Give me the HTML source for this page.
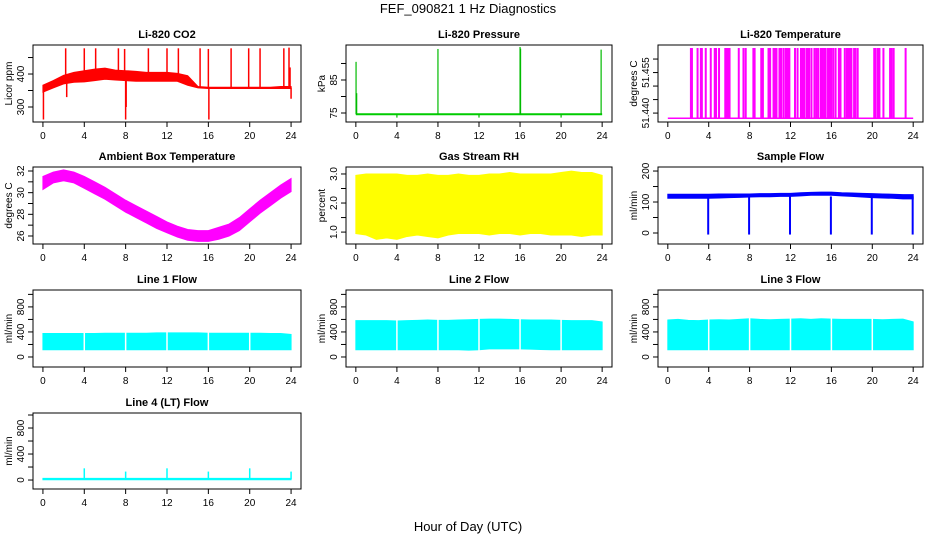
<!DOCTYPE html>
<html><head><meta charset="utf-8">
<style>
html,body{margin:0;padding:0;background:#fff;}
svg{display:block;font-family:"Liberation Sans",sans-serif;}
</style></head>
<body>
<svg id="fig" width="936" height="540" viewBox="0 0 936 540" xmlns="http://www.w3.org/2000/svg">
<text x="468" y="13" text-anchor="middle" font-size="13">FEF_090821  1 Hz Diagnostics</text>
<text x="468" y="531" text-anchor="middle" font-size="13">Hour of Day (UTC)</text>
</svg>
<script>
// ---- data ----
const hourTicks = [0,4,8,12,16,20,24];
const hours = [0,1,2,3,4,5,6,7,8,9,10,11,12,13,14,15,16,17,18,19,20,21,22,23,24];

const co2Low  = [345,358,370,375,376,380,384,382,380,378,378,378,378,378,366,358,356,356,356,356,356,356,356,356,356];
const co2High = [366,380,396,405,410,415,418,412,410,408,405,405,405,402,395,362,360,360,360,360,360,360,360,362,362];
const co2SpikeT = [0.05,2.2,2.3,4.0,5.1,7.3,7.9,8.0,8.05,10.2,12.0,13.1,15.2,16.0,16.05,18.2,19.9,21.0,23.3,23.8,23.9,24.0];
const co2SpikeV = [262,478,330,478,478,478,476,262,300,478,478,478,478,476,262,478,478,478,478,480,420,325];

const presT = [0,24];
const presV = [74.6,74.6];
const presSpikeT = [0.02,0.08,4.0,8.0,12.0,16.0,16.05,20.0,23.9];
const presSpikeV = [90.5,81,73.6,94.4,73.6,95,94.5,73.6,94.2];

const tempBase = 51.4381;
const tempSpikeT = [2.26,2.36,2.91,3.23,3.33,3.71,4.20,4.59,4.72,5.01,5.62,5.75,5.91,6.04,6.94,7.40,7.62,8.37,8.49,9.14,9.30,9.85,10.01,10.34,10.53,10.63,10.92,11.01,11.11,11.34,11.56,11.72,11.89,12.44,12.69,13.02,13.18,13.37,13.60,13.70,13.82,14.05,14.34,14.53,14.70,14.95,15.12,15.28,15.44,15.67,15.83,15.99,16.18,16.41,16.73,16.89,17.31,17.51,17.64,17.80,17.96,18.22,18.35,18.57,20.19,20.32,20.54,20.70,21.09,21.74,21.90,22.09,23.26];
const tempSpikeV = 51.4641;

const ambLow  = [30.3,30.9,31.1,30.9,30.4,29.9,29.4,28.8,28.2,27.7,27.2,26.7,26.3,25.9,25.6,25.5,25.5,25.7,26.0,26.5,27.3,28.1,28.8,29.5,30.1];
const ambHigh = [31.5,31.9,32.1,31.9,31.5,31.0,30.5,29.9,29.3,28.8,28.3,27.8,27.3,26.9,26.6,26.5,26.5,26.8,27.1,27.7,28.5,29.3,30.0,30.7,31.3];

const rhLow  = [0.95,0.9,0.75,0.8,0.75,0.85,0.9,0.85,0.8,0.9,0.95,0.95,0.95,0.9,0.95,0.95,0.9,0.95,0.95,0.9,0.9,0.9,0.85,0.9,0.9];
const rhHigh = [2.95,3.0,3.0,3.0,3.0,2.95,2.95,3.0,2.95,2.95,3.0,2.95,2.95,3.0,3.0,3.05,3.0,3.0,3.0,3.0,3.05,3.1,3.05,3.05,2.95];

const sfLow  = [112,112,112,112,112,113,114,115,116,117,117,118,118,120,122,122,122,120,118,116,114,113,112,110,110];
const sfHigh = [125,125,125,125,125,126,126,126,126,127,127,128,128,130,131,132,132,130,129,128,127,126,125,124,124];
const sfDropT = [3.95,7.95,11.95,15.95,19.95,23.95];
const sfDropV = [-5,-5,-5,-5,-5,-5];

const l1Low  = [115,115,115,115,115,115,115,115,115,115,115,115,115,115,115,115,115,115,115,115,115,115,115,115,115];
const l1High = [375,375,375,375,375,375,380,380,380,380,380,385,385,385,385,385,380,380,380,380,380,380,375,375,360];
const l2Low  = [115,115,115,115,115,115,115,115,115,115,115,110,115,130,130,130,130,125,120,115,115,115,115,115,115];
const l2High = [580,580,580,580,575,580,585,590,585,585,590,595,600,605,605,600,595,590,590,590,585,580,580,580,560];
const l3Low  = [115,115,115,115,115,115,115,115,115,115,115,115,115,115,115,115,115,115,115,115,115,115,115,115,115];
const l3High = [590,600,585,580,590,595,590,600,610,600,595,600,605,610,600,610,605,600,600,600,600,595,600,605,560];
const flowGapT = [4,8,12,16,20];

const l4Low  = [5,5,5,5,5,5,5,5,5,5,5,5,5,5,5,5,5,5,5,5,5,5,5,5,5];
const l4High = [25,25,25,25,25,25,25,25,25,25,25,25,25,25,25,25,25,25,25,25,25,25,25,25,25];
const l4SpikeT = [4.0,8.0,12.0,16.0,20.0,24.0];
const l4SpikeV = [180,130,180,130,180,130];

// ---- layout ----
const svg = document.getElementById('fig');
const NS = 'http://www.w3.org/2000/svg';
const colX = [[33,301],[346,612],[658,923]];
const rowY = [[45,122],[167,244],[290,367],[413,489]];

function mk(tag, attrs, parent){
  const e = document.createElementNS(NS, tag);
  for (const k in attrs) e.setAttribute(k, attrs[k]);
  (parent||svg).appendChild(e);
  return e;
}

function panel(col,row,title,ylab,ydom,yticks,ylabels,name){
  const [x0,x1] = colX[col], [y0,y1] = rowY[row];
  const g = mk('g',{});
  
  
  const pad = 0.96, w = x1-x0;
  const sx = t => x0 + (t+pad)/(24+2*pad)*w;
  const sy = v => y1 - (v-ydom[0])/(ydom[1]-ydom[0])*(y1-y0);
  const plot = mk('g',{},g);
  
  
  const box = mk('rect',{x:x0,y:y0,width:w,height:y1-y0,fill:'none',stroke:'#000','stroke-width':1},g);
  
  
  const t = mk('text',{x:(x0+x1)/2,y:y0-7,'text-anchor':'middle','font-size':11,'font-weight':'bold'},g);
  t.textContent = title;
  
  
  const xa = mk('g',{},g);
  
  
  hourTicks.forEach(h=>{
    const x = sx(h);
    mk('line',{x1:x,x2:x,y1:y1,y2:y1+5,stroke:'#000'},xa);
    const tx = mk('text',{x:x,y:y1+17,'text-anchor':'middle','font-size':10},xa);
    tx.textContent = h;
  });
  const ya = mk('g',{},g);
  
  
  yticks.forEach(v=>{
    const y = sy(v);
    mk('line',{x1:x0-5,x2:x0,y1:y,y2:y,stroke:'#000'},ya);
  });
  ylabels.forEach(v=>{
    const y = sy(v);
    const tx = mk('text',{x:x0-9,y:y,'text-anchor':'middle','font-size':10,transform:`rotate(-90 ${x0-9} ${y})`},ya);
    tx.textContent = v;
  });
  const yl = mk('text',{x:x0-21,y:(y0+y1)/2,'text-anchor':'middle','font-size':10,transform:`rotate(-90 ${x0-21} ${(y0+y1)/2})`},g);
  yl.textContent = ylab;
  
  
  return {plot,sx,sy};
}

function band(p,ts,lo,hi,color,name){
  let pts = ts.map((t,i)=>p.sx(t)+','+p.sy(hi[i]));
  for (let i=ts.length-1;i>=0;i--) pts.push(p.sx(ts[i])+','+p.sy(lo[i]));
  const e = mk('polygon',{points:pts.join(' '),fill:color,stroke:color,'stroke-width':1},p.plot);
  
  
}
function spikes(p,ts,vs,baseFn,color,name,w){
  ts.forEach((t,i)=>{
    const v = Array.isArray(vs)?vs[i]:vs;
    const e = mk('line',{x1:p.sx(t),x2:p.sx(t),y1:p.sy(baseFn(t)),y2:p.sy(v),stroke:color,'stroke-width':w||1.5},p.plot);
    
    
  });
}
function gaps(p,ts,name){
  ts.forEach(t=>{
    const e = mk('line',{x1:p.sx(t),x2:p.sx(t),y1:p.sy(1000),y2:p.sy(-100),stroke:'#fff','stroke-width':1.5},p.plot);
    
    
  });
}
function interp(ts,vs){return t=>{let i=Math.min(Math.floor(t),ts.length-2);const f=t-ts[i];return vs[i]+(vs[i+1]-vs[i])*f;};}

// CO2
let p = panel(0,0,'Li-820 CO2','Licor ppm',[254.5,488],[300,350,400,450],[300,400],'co2');
band(p,hours,co2Low,co2High,'#ff0000','co2');
const co2Mid = interp(hours, hours.map((h,i)=>(co2Low[i]+co2High[i])/2));
spikes(p,co2SpikeT,co2SpikeV,co2Mid,'#ff0000','co2');

// Pressure
p = panel(1,0,'Li-820 Pressure','kPa',[72.27,95.6],[75,80,85,90],[75,85],'pressure');
const pl = mk('line',{x1:p.sx(presT[0]),x2:p.sx(presT[1]),y1:p.sy(presV[0]),y2:p.sy(presV[1]),stroke:'#00cc00','stroke-width':2},p.plot);


spikes(p,presSpikeT,presSpikeV,()=>74.6,'#00bb00','pressure',1.2);

// Temperature
p = panel(2,0,'Li-820 Temperature','degrees C',[51.4367,51.4652],[51.440,51.445,51.450,51.455,51.460],['51.440','51.455'],'temperature');
const tl = mk('line',{x1:p.sx(0),x2:p.sx(24),y1:p.sy(tempBase),y2:p.sy(tempBase),stroke:'#ff00ff','stroke-width':1.5},p.plot);


spikes(p,tempSpikeT,tempSpikeV,()=>tempBase,'#ff00ff','temperature',2);

// Ambient
p = panel(0,1,'Ambient Box Temperature','degrees C',[25.26,32.37],[26,27,28,29,30,31,32],[26,28,30,32],'ambient');
band(p,hours,ambLow,ambHigh,'#ff00ff','ambient');

// RH
p = panel(1,1,'Gas Stream RH','percent',[0.59,3.24],[1.0,1.5,2.0,2.5,3.0],['1.0','2.0','3.0'],'rh');
band(p,hours,rhLow,rhHigh,'#ffff00','rh');

// Sample flow
p = panel(2,1,'Sample Flow','ml/min',[-35.5,213],[0,50,100,150,200],[0,100,200],'sample-flow');
band(p,hours,sfLow,sfHigh,'#0000ff','sample-flow');
spikes(p,sfDropT,sfDropV,()=>118,'#0000ff','sample-flow',2);

// Line flows
const fDom=[-160,1070], fT=[0,200,400,600,800,1000], fL=[0,400,800];
p = panel(0,2,'Line 1 Flow','ml/min',fDom,fT,fL,'line1-flow');
band(p,hours,l1Low,l1High,'#00ffff','line1-flow'); gaps(p,flowGapT,'line1-flow');
p = panel(1,2,'Line 2 Flow','ml/min',fDom,fT,fL,'line2-flow');
band(p,hours,l2Low,l2High,'#00ffff','line2-flow'); gaps(p,flowGapT,'line2-flow');
p = panel(2,2,'Line 3 Flow','ml/min',fDom,fT,fL,'line3-flow');
band(p,hours,l3Low,l3High,'#00ffff','line3-flow'); gaps(p,flowGapT,'line3-flow');
p = panel(0,3,'Line 4 (LT) Flow','ml/min',[-138,1031],fT,fL,'line4-flow');
band(p,hours,l4Low,l4High,'#00ffff','line4-flow');
spikes(p,l4SpikeT,l4SpikeV,()=>15,'#00ffff','line4-flow',1.5);
</script>
</body></html>
